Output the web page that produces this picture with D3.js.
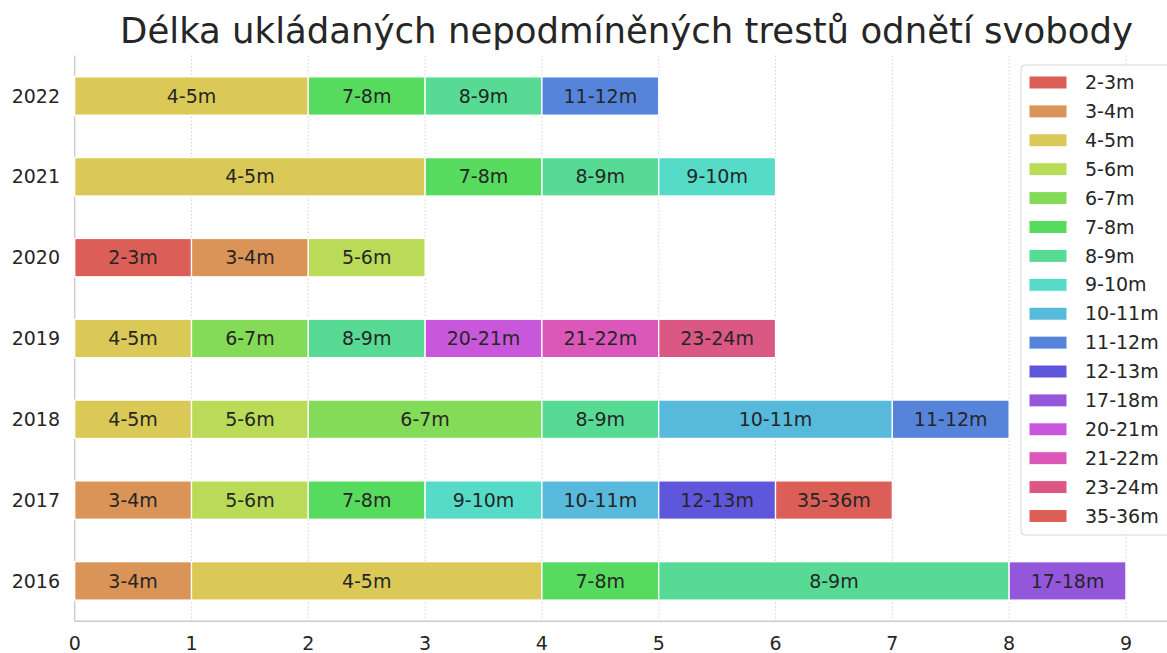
<!DOCTYPE html>
<html>
<head>
<meta charset="utf-8">
<script src="https://cdn.jsdelivr.net/npm/d3@7"></script>
<style>
  body { margin: 0; background: #fff; }
  text { font-family: "DejaVu Sans", sans-serif; fill: #262626; }
</style>
</head>
<body>
<div id="chart"></div>
<script>
// categories (legend order)
var categories = ['2-3m','3-4m','4-5m','5-6m','6-7m','7-8m','8-9m','9-10m',
    '10-11m','11-12m','12-13m','17-18m','20-21m','21-22m','23-24m','35-36m'];

// years, top row first
var years = ['2022','2021','2020','2019','2018','2017','2016'];

// per year: [category, count] in stacking order
var parts2022 = [['4-5m',2],['7-8m',1],['8-9m',1],['11-12m',1]];
var parts2021 = [['4-5m',3],['7-8m',1],['8-9m',1],['9-10m',1]];
var parts2020 = [['2-3m',1],['3-4m',1],['5-6m',1]];
var parts2019 = [['4-5m',1],['6-7m',1],['8-9m',1],['20-21m',1],['21-22m',1],['23-24m',1]];
var parts2018 = [['4-5m',1],['5-6m',1],['6-7m',2],['8-9m',1],['10-11m',2],['11-12m',1]];
var parts2017 = [['3-4m',1],['5-6m',1],['7-8m',1],['9-10m',1],['10-11m',1],['12-13m',1],['35-36m',1]];
var parts2016 = [['3-4m',1],['4-5m',3],['7-8m',1],['8-9m',3],['17-18m',1]];

var partsByYear = {'2022':parts2022,'2021':parts2021,'2020':parts2020,'2019':parts2019,
    '2018':parts2018,'2017':parts2017,'2016':parts2016};

var xTicks = [0,1,2,3,4,5,6,7,8,9];

var width = 1167, height = 653;

// hls palette, 15 colours, cycling
var palette = [];
for (var i = 0; i < 15; i++) {
    var h = (i / 15 + 0.01) % 1;
    palette.push(d3.hsl(h * 360, 0.65, 0.6).formatHex());
}
var color = d3.scaleOrdinal().domain(categories).range(palette);

var svg = d3.select('#chart').append('svg')
    .attr('width', width)
    .attr('height', height);

var x = d3.scaleLinear().domain([0, 9.45]).range([74.7, 1178.5]);
var y = d3.scaleBand().domain(years).range([55.6, 621.3])
    .paddingInner(0.525).paddingOuter(0.2625);

// grid
svg.append('g').selectAll('line')
    .data(xTicks.slice(1))
    .enter().append('line')
    .attr('x1', function(d){ return x(d); })
    .attr('x2', function(d){ return x(d); })
    .attr('y1', 55.6)
    .attr('y2', 621.3)
    .style('stroke', '#cccccc')
    .style('stroke-width', 1)
    .style('stroke-dasharray', '1.2,2.4');

// spines
svg.append('line').attr('x1', 74.7).attr('x2', 74.7).attr('y1', 55.6).attr('y2', 621.3)
    .style('stroke', '#cccccc').style('stroke-width', 1.4);
svg.append('line').attr('x1', 74.7).attr('x2', 1178.5).attr('y1', 621.3).attr('y2', 621.3)
    .style('stroke', '#cccccc').style('stroke-width', 1.4);

// bars
years.forEach(function(yr){
    var acc = 0;
    var segs = partsByYear[yr].map(function(p){
        var s = {cat: p[0], x0: acc, x1: acc + p[1]};
        acc += p[1];
        return s;
    });
    var g = svg.append('g').selectAll('g')
        .data(segs)
        .enter().append('g');

    g.append('rect')
        .attr('x', function(d){ return x(d.x0); })
        .attr('y', y(yr))
        .attr('width', function(d){ return x(d.x1) - x(d.x0); })
        .attr('height', y.bandwidth())
        .style('fill', function(d){ return color(d.cat); })
        .style('stroke', 'white')
        .style('stroke-width', 1.3);

    g.append('text')
        .text(function(d){ return d.cat; })
        .attr('x', function(d){ return (x(d.x0) + x(d.x1)) / 2; })
        .attr('y', y(yr) + y.bandwidth() / 2)
        .attr('dy', '0.35em')
        .attr('text-anchor', 'middle')
        .attr('font-size', 19);
});

// y labels
svg.append('g').selectAll('text')
    .data(years)
    .enter().append('text')
    .text(function(d){ return d; })
    .attr('x', 60)
    .attr('y', function(d){ return y(d) + y.bandwidth() / 2; })
    .attr('dy', '0.35em')
    .attr('text-anchor', 'end')
    .attr('font-size', 19);

// x labels
svg.append('g').selectAll('text')
    .data(xTicks)
    .enter().append('text')
    .text(function(d){ return d; })
    .attr('x', function(d){ return x(d); })
    .attr('y', 650)
    .attr('text-anchor', 'middle')
    .attr('font-size', 19);

// title
svg.append('text')
    .text('Délka ukládaných nepodmíněných trestů odnětí svobody')
    .attr('x', (74.7 + 1178.5) / 2)
    .attr('y', 43)
    .attr('text-anchor', 'middle')
    .attr('font-size', 35.5);

// legend
var legend = svg.append('g');
legend.append('rect')
    .attr('x', 1021)
    .attr('y', 65)
    .attr('width', 170)
    .attr('height', 470)
    .attr('rx', 4)
    .style('fill', 'white')
    .style('fill-opacity', 0.8)
    .style('stroke', '#d6d6d6')
    .style('stroke-width', 1);

var item = legend.selectAll('g.item')
    .data(categories)
    .enter().append('g')
    .attr('class', 'item');

item.append('rect')
    .attr('x', 1029)
    .attr('y', function(d, i){ return 76 + i * 28.9; })
    .attr('width', 38)
    .attr('height', 13)
    .style('fill', function(d){ return color(d); })
    .style('stroke', 'white')
    .style('stroke-width', 1);

item.append('text')
    .text(function(d){ return d; })
    .attr('x', 1085)
    .attr('y', function(d, i){ return 82.5 + i * 28.9; })
    .attr('dy', '0.35em')
    .attr('font-size', 19);
</script>
</body>
</html>
